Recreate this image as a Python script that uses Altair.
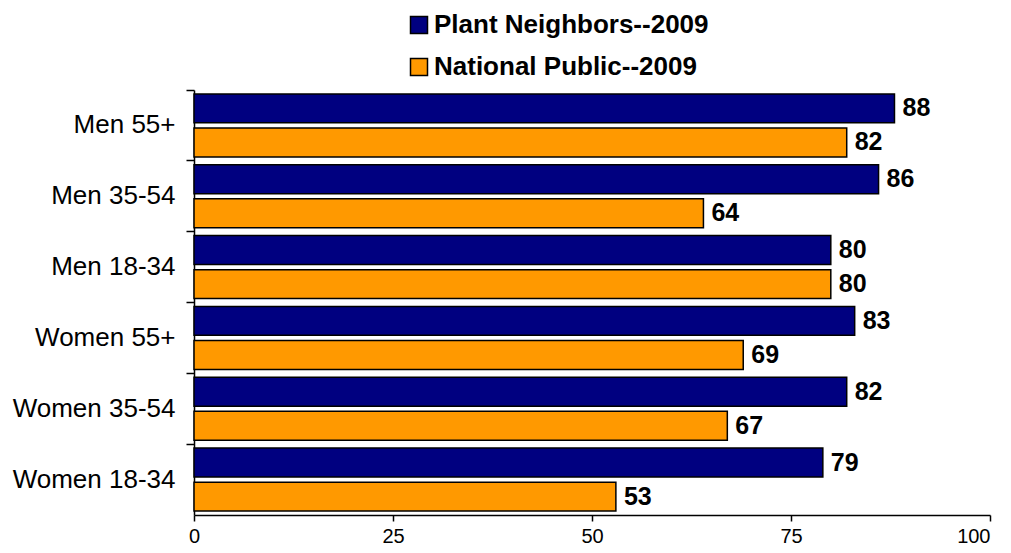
import altair as alt
import pandas as pd

categories = ["Men 55+", "Men 35-54", "Men 18-34", "Women 55+", "Women 35-54", "Women 18-34"]
series = ["Plant Neighbors--2009", "National Public--2009"]
plant = [88, 86, 80, 83, 82, 79]
national = [82, 64, 80, 69, 67, 53]
colors = ["#000080", "#FF9900"]

rows = []
for c, p, n in zip(categories, plant, national):
    rows.append({"cat": c, "series": series[0], "value": p})
    rows.append({"cat": c, "series": series[1], "value": n})
df = pd.DataFrame(rows)

y = alt.Y("cat:N", sort=categories, title=None,
          scale=alt.Scale(paddingInner=0, paddingOuter=0),
          axis=alt.Axis(labelFont="Liberation Sans", labelFontSize=26, labelColor="black",
                        labelPadding=11, tickSize=8, tickColor="black", tickWidth=1.5,
                        domainColor="black", domainWidth=1.5, bandPosition=0, ticks=True,
                        labelLimit=0))
yoff = alt.YOffset("series:N", sort=series,
                   scale=alt.Scale(paddingInner=0.15, paddingOuter=0.115))
x = alt.X("value:Q", title=None,
          scale=alt.Scale(domain=[0, 100], nice=False),
          axis=alt.Axis(values=[0, 25, 50, 75, 100], labelFont="Liberation Sans",
                        labelFontSize=20, labelColor="black", grid=False,
                        tickSize=6, tickColor="black", tickWidth=1.5,
                        domainColor="black", domainWidth=1.5, labelPadding=5,
                        labelFlush=False,
                        labelAlign=alt.expr("datum.value == 100 ? 'right' : 'center'")))
color = alt.Color("series:N", sort=series,
                  scale=alt.Scale(domain=series, range=colors),
                  legend=alt.Legend(title=None, orient="none", legendX=212, legendY=-78,
                                    direction="vertical", symbolType="square",
                                    symbolSize=289, symbolStrokeColor="black",
                                    symbolStrokeWidth=1.5, symbolOpacity=1,
                                    labelFont="Liberation Sans", labelFontSize=26,
                                    labelFontWeight="bold", labelColor="black",
                                    rowPadding=16, labelOffset=2, labelLimit=0))

base = alt.Chart(df).encode(y=y, yOffset=yoff, x=x)
bars = base.mark_bar(stroke="black", strokeWidth=1.5, opacity=1).encode(color=color)
labels = base.mark_text(align="left", baseline="middle", dx=8, font="Liberation Sans",
                        fontSize=25, fontWeight="bold", color="black").encode(
    text=alt.Text("value:Q"))

chart = alt.layer(bars, labels).properties(
    width=796, height=425,
    autosize=alt.AutoSizeParams(type="none"),
    padding={"left": 186, "top": 82, "right": 13, "bottom": 30},
).configure_view(stroke=None).configure_axis(labelFontWeight="normal")

chart.save("out.html", embed_options={"renderer": "svg", "actions": False})
